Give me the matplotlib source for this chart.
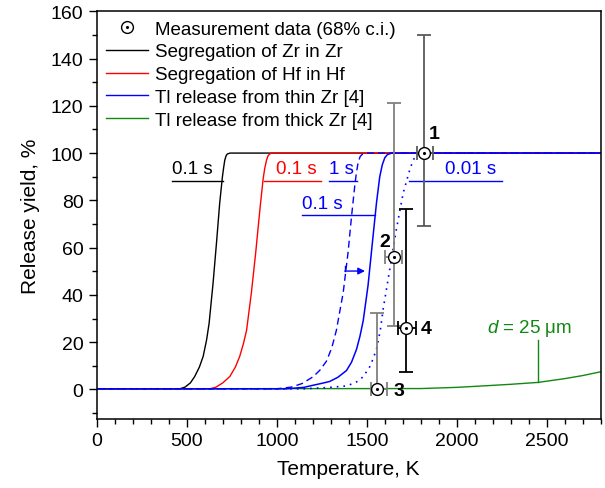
import matplotlib
matplotlib.use("Agg")
import matplotlib.pyplot as plt
from matplotlib.lines import Line2D
from matplotlib.ticker import MultipleLocator

plt.rcParams['font.family'] = ['Liberation Sans', 'DejaVu Sans']
plt.rcParams['mathtext.fontset'] = 'custom'
plt.rcParams['mathtext.it'] = 'Liberation Sans:italic'
plt.rcParams['mathtext.rm'] = 'Liberation Sans'

# ---- curves ----
zr_T = [0, 461, 490, 520, 544, 570, 591, 610, 624, 646, 665, 683, 698, 705, 711, 718, 725, 740, 2800]
zr_Y = [0.3, 0.3, 1.0, 2.8, 5.5, 9.5, 14, 21, 28, 45, 62, 79, 90, 94, 97, 98.8, 99.6, 100, 100]

hf_T = [0, 628, 660, 700, 739, 770, 794, 815, 832, 859, 883, 906, 924, 933, 943, 951, 960, 972, 2800]
hf_Y = [0.3, 0.3, 0.9, 2.8, 5.5, 9.5, 14, 19.5, 25, 41, 58, 76, 89, 93.5, 97, 98.8, 99.6, 100, 100]

thin01_T = [0, 1050, 1150, 1202, 1250, 1294, 1340, 1387, 1415, 1443, 1462, 1480, 1507, 1531,
            1554, 1572, 1586, 1600, 1615, 1640, 2800]
thin01_Y = [0.3, 0.3, 0.9, 1.8, 2.6, 3.4, 5.2, 8, 11.5, 17, 22.5, 29, 44, 62,
            79, 90, 95, 98, 99.4, 100, 100]

thin1_T = [0, 1000, 1080, 1140, 1202, 1240, 1276, 1305, 1331, 1369, 1396, 1415, 1433, 1442,
           1452, 1463, 1475, 1500, 2800]
thin1_Y = [0.3, 0.3, 1.0, 2.5, 5.4, 8.2, 12, 17.5, 25, 41, 58, 73, 86, 91.5,
           96, 98.5, 99.5, 100, 100]

thin001_T = [0, 1150, 1280, 1387, 1440, 1480, 1520, 1554, 1575, 1591, 1628, 1665, 1702, 1739,
             1758, 1776, 1800, 2800]
thin001_Y = [0.3, 0.3, 0.8, 1.5, 3, 5.4, 10, 17, 25, 34, 51, 68, 83, 93,
             97, 99.4, 100, 100]

thick_T = [0, 1800, 2000, 2165, 2300, 2452, 2600, 2700, 2800]
thick_Y = [0.3, 0.4, 0.9, 1.6, 2.2, 3.0, 4.6, 5.9, 7.5]

# ---- measurement data ----
meas_T = [1820, 1650, 1557, 1720]
meas_Y = [100, 56, 0, 26]
meas_xlo = [40, 50, 35, 46]
meas_xhi = [46, 48, 57, 56]
meas_ylo = [31, 29, 0, 18.5]
meas_yhi = [50, 65, 32.5, 50.5]
meas_labels = ['1', '2', '3', '4']
meas_colors = ['#5a5a5a', '#808080', '#808080', '#000000']

fig = plt.figure(figsize=(6.05, 4.89), dpi=100)
ax = fig.add_axes([0.160, 0.141, 0.833, 0.834])

ax.plot(zr_T, zr_Y, color='black', lw=1)
ax.plot(hf_T, hf_Y, color='red', lw=1)
ax.plot(thick_T, thick_Y, color='#118811', lw=1)
ax.plot(thin1_T, thin1_Y, color='blue', lw=1, ls=(0, (5, 3)))
ax.plot(thin001_T, thin001_Y, color='blue', lw=1.2, ls=(0, (1, 3)))
ax.plot(thin01_T, thin01_Y, color='blue', lw=1.1)

for i in range(len(meas_T)):
    ax.errorbar(meas_T[i], meas_Y[i],
                xerr=[[meas_xlo[i]], [meas_xhi[i]]],
                yerr=[[meas_ylo[i]], [meas_yhi[i]]],
                fmt='none', ecolor=meas_colors[i], elinewidth=1.3,
                capsize=5, capthick=1.3, zorder=4)
ax.plot(meas_T, meas_Y, 'o', ms=8.5, mfc='white', mec='black', mew=1, zorder=5)
ax.plot(meas_T, meas_Y, '.', ms=2.5, color='black', zorder=6)

# point labels
lab_pos = [(1875, 108.2), (1600, 62.7), (1680, -0.6), (1831, 25.9)]
for lab, (tx, ty) in zip(meas_labels, lab_pos):
    ax.text(tx, ty, lab, ha='center', va='center', fontsize=14, fontweight='bold')

# time labels with underline leaders
fs = 13.5
ax.text(419, 91.7, '0.1 s', color='black', fontsize=fs, va='baseline')
ax.plot([419, 700], [88.4, 88.4], color='black', lw=1)
ax.text(998, 91.7, '0.1 s', color='red', fontsize=fs, va='baseline')
ax.plot([928, 1248], [88.4, 88.4], color='red', lw=1)
ax.text(1289, 91.7, '1 s', color='blue', fontsize=fs, va='baseline')
ax.plot([1290, 1448], [88.4, 88.4], color='blue', lw=1)
ax.text(1933, 91.7, '0.01 s', color='blue', fontsize=fs, va='baseline')
ax.plot([1735, 2252], [88.4, 88.4], color='blue', lw=1)
ax.text(1139, 76.8, '0.1 s', color='blue', fontsize=fs, va='baseline')
ax.plot([1140, 1544], [73.7, 73.7], color='blue', lw=1)

# arrow
ax.plot([1378, 1378], [52.2, 50.1], color='blue', lw=1)
ax.annotate('', xy=(1490, 50.1), xytext=(1378, 50.1),
            arrowprops=dict(arrowstyle='-|>', color='blue', lw=1, mutation_scale=10,
                            shrinkA=0, shrinkB=0))

# thickness label
ax.text(2167, 26.3, r'$d$ = 25 μm', color='#118811', fontsize=fs, va='center')
ax.plot([2450, 2450], [21, 3], color='#118811', lw=1)

ax.set_xlim(0, 2800)
ax.set_ylim(-12.5, 160)
ax.xaxis.set_major_locator(MultipleLocator(500))
ax.xaxis.set_minor_locator(MultipleLocator(100))
ax.yaxis.set_major_locator(MultipleLocator(20))
ax.yaxis.set_minor_locator(MultipleLocator(10))
ax.tick_params(which='both', direction='out', top=False, right=False, labelsize=14)
ax.tick_params(which='major', length=6, width=1)
ax.tick_params(which='minor', length=3.5, width=1)
for s in ax.spines.values():
    s.set_linewidth(1.1)
ax.set_xlabel('Temperature, K', fontsize=15, labelpad=7)
ax.set_ylabel('Release yield, %', fontsize=15, labelpad=8)

h_meas = (Line2D([], [], ls='none', marker='o', ms=8.5, mfc='white', mec='black', mew=1),
          Line2D([], [], ls='none', marker='.', ms=2.5, color='black'))
handles = [h_meas,
           Line2D([], [], color='black', lw=1),
           Line2D([], [], color='red', lw=1),
           Line2D([], [], color='blue', lw=1),
           Line2D([], [], color='#118811', lw=1)]
labels = ['Measurement data (68% c.i.)', 'Segregation of Zr in Zr',
          'Segregation of Hf in Hf', 'Tl release from thin Zr [4]',
          'Tl release from thick Zr [4]']
ax.legend(handles, labels, loc='upper left', bbox_to_anchor=(0.0, 1.0), frameon=False,
          fontsize=13.5, handlelength=2.25, handletextpad=0.35, labelspacing=0.3,
          borderaxespad=0.2, borderpad=0.3)

fig.savefig('out.png', dpi=100)
